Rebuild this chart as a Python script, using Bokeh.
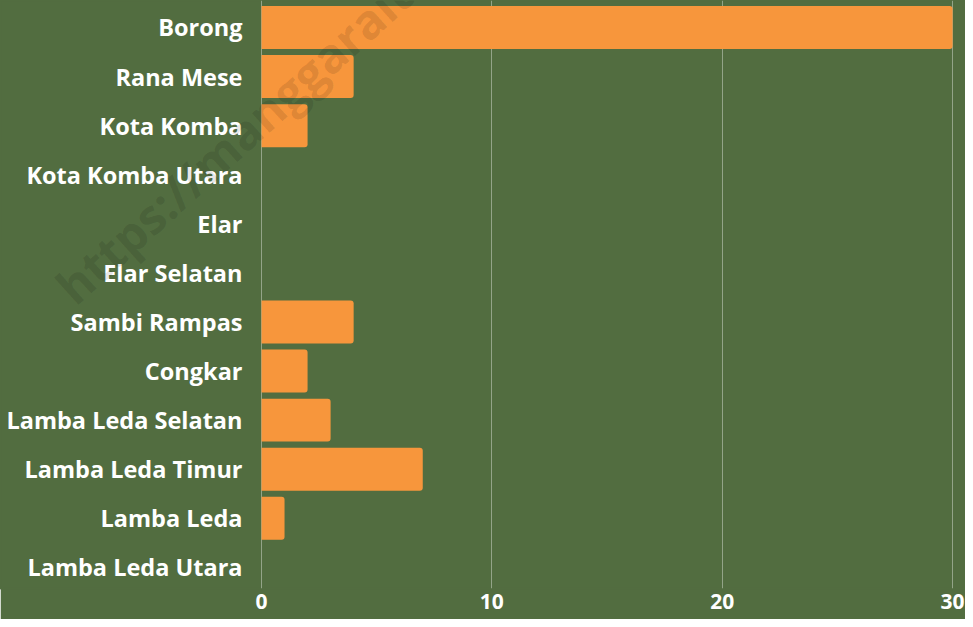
from bokeh.plotting import figure
from bokeh.models import Range1d, FixedTicker, Label, ColumnDataSource
from bokeh.core.properties import value
from bokeh.embed import file_html
from bokeh.resources import INLINE

categories = ["Borong", "Rana Mese", "Kota Komba", "Kota Komba Utara", "Elar",
              "Elar Selatan", "Sambi Rampas", "Congkar", "Lamba Leda Selatan",
              "Lamba Leda Timur", "Lamba Leda", "Lamba Leda Utara"]
values = [30, 4, 2, 0, 0, 0, 4, 2, 3, 7, 1, 0]
x_ticks = [0, 10, 20, 30]

BG = "#526d40"
BAR = "#f7963c"
FONT = "Open Sans"

positions = list(range(len(categories)))
src = ColumnDataSource(dict(y=positions, v=values, cat=categories,
                            zero=[0] * len(categories)))

p = figure(width=965, height=619, output_backend="svg", toolbar_location=None,
           x_range=Range1d(-11.33, 30.56), y_range=Range1d(11.43, -0.55),
           min_border_left=0, min_border_right=0, min_border_top=0,
           min_border_bottom=31)
p.background_fill_color = BG
p.border_fill_color = BG
p.outline_line_color = BG
p.outline_line_width = 2

p.xgrid.ticker = FixedTicker(ticks=x_ticks)
p.xgrid.grid_line_color = "white"
p.xgrid.grid_line_alpha = 0.38
p.ygrid.grid_line_color = None

p.hbar(y="y", left=0, right="v", height=0.875, source=src, fill_color=BAR,
       line_color=None, border_radius=(0, 3, 3, 0))

# category labels
p.text(x="zero", y="y", text="cat", source=src, x_offset=-19,
       text_align="right", text_baseline="middle", text_color="white",
       text_font=value(FONT), text_font_style="bold", text_font_size="23.5px")

# axes
p.yaxis.visible = False
p.xaxis.ticker = FixedTicker(ticks=x_ticks)
p.xaxis.axis_line_color = None
p.xaxis.major_tick_line_color = None
p.xaxis.minor_tick_line_color = None
p.xaxis.major_tick_out = 0
p.xaxis.major_tick_in = 0
p.xaxis.major_label_text_color = "white"
p.xaxis.major_label_text_font = FONT
p.xaxis.major_label_text_font_style = "bold"
p.xaxis.major_label_text_font_size = "21px"
p.xaxis.major_label_standoff = 5

# watermark
wm = Label(x=-8.6, y=5.42, text="https://manggaraitimurkab.bps.go.id",
           angle=42, angle_units="deg", text_font=FONT, text_font_style="bold",
           text_font_size="48px", text_color="black", text_alpha=0.11,
           text_baseline="alphabetic")
p.add_layout(wm)

open("out.html", "w").write(file_html(p, INLINE))
